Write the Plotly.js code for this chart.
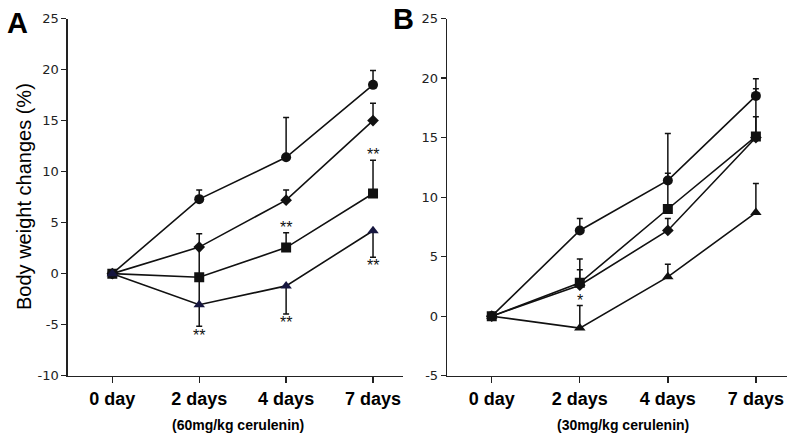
<!DOCTYPE html>
<html>
<head>
<meta charset="utf-8">
<script src="https://cdn.plot.ly/plotly-3.0.1.min.js"></script>
<style>
html,body{margin:0;padding:0;background:#fff;}
#chart{width:792px;height:436px;}
</style>
</head>
<body>
<div id="chart"></div>
<script>
// ---- data ----
const categories = ['0 day', '2 days', '4 days', '7 days'];

// Panel A (60mg/kg cerulenin)
const circleA = [0, 7.3, 11.4, 18.5];
const circleA_err = [0, 0.9, 3.9, 1.4];
const diamondA = [0, 2.6, 7.2, 15.0];
const diamondA_err = [0, 1.3, 1.0, 1.7];
const squareA = [0, -0.35, 2.55, 7.85];
const squareA_err = [0, 2.95, 1.45, 3.25];
const triangleA = [0, -3.05, -1.2, 4.2];
const triangleA_errPlus = [0, 2.7, 0, 0];
const triangleA_errMinus = [0, 2.1, 2.75, 2.6];

// Panel B (30mg/kg cerulenin)
const circleB = [0, 7.2, 11.4, 18.5];
const circleB_err = [0, 1.0, 3.95, 1.45];
const diamondB = [0, 2.6, 7.2, 15.0];
const diamondB_err = [0, 1.3, 1.0, 1.75];
const squareB = [0, 2.8, 9.0, 15.1];
const squareB_err = [0, 2.0, 3.0, 4.0];
const triangleB = [0, -1.0, 3.3, 8.7];
const triangleB_err = [0, 1.9, 1.05, 2.45];

// significance marks
const starsA_x = ['2 days', '4 days', '4 days', '7 days', '7 days'];
const starsA_y = [-6.1, -4.75, 4.55, 0.75, 11.65];
const starsA_text = ['**', '**', '**', '**', '**'];
const starsB_x = ['2 days'];
const starsB_y = [1.3];
const starsB_text = ['*'];

const yTicksA = [-10, -5, 0, 5, 10, 15, 20, 25];
const yTicksB = [-5, 0, 5, 10, 15, 20, 25];

// ---- helpers ----
const ink = '#111';
function series(y, plus, minus, symbol, size, color, xa, ya) {
  const err = {type: 'data', symmetric: false, array: plus, arrayminus: minus || plus.map(() => 0),
    color: ink, thickness: 1.5, width: 3};
  return {
    x: categories, y: y, type: 'scatter', mode: 'lines+markers',
    xaxis: xa, yaxis: ya,
    line: {color: ink, width: 1.6},
    marker: {symbol: symbol, size: size, color: color, line: {width: 0}},
    error_y: err, showlegend: false, hoverinfo: 'skip'
  };
}
const navy = '#16163f';

const traces = [
  series(circleA, circleA_err, null, 'circle', 10, ink, 'x', 'y'),
  series(diamondA, diamondA_err, null, 'diamond', 9, ink, 'x', 'y'),
  series(squareA, squareA_err, null, 'square', 10, ink, 'x', 'y'),
  series(triangleA, triangleA_errPlus, triangleA_errMinus, 'triangle-up', 10, navy, 'x', 'y'),
  series(circleB, circleB_err, null, 'circle', 10, ink, 'x2', 'y2'),
  series(diamondB, diamondB_err, null, 'diamond', 9, ink, 'x2', 'y2'),
  series(squareB, squareB_err, null, 'square', 10, ink, 'x2', 'y2'),
  series(triangleB, triangleB_err, null, 'triangle-up', 10, ink, 'x2', 'y2')
];

const W = 792, H = 436;
const tickFont = {family: 'DejaVu Sans', size: 13, color: '#222'};
const xTickFont = {family: 'Liberation Sans, Arial', size: 18, color: '#000', weight: 'bold'};
const starFont = {family: 'Liberation Sans, Arial', size: 16, color: '#111'};

function xAxis(domain, anchor) {
  return {
    domain: domain, anchor: anchor, type: 'category', categoryarray: categories,
    range: [-0.51, 3.345], showline: true, linecolor: '#222', linewidth: 1.6,
    ticks: 'outside', ticklen: 6, tickwidth: 1.4, tickcolor: '#222',
    showgrid: false, zeroline: false, tickfont: xTickFont, fixedrange: true
  };
}
function yAxis(domain, anchor, range, tv) {
  return {
    domain: domain, anchor: anchor, range: range, tickvals: tv, ticktext: tv.map(String),
    showline: true, linecolor: '#222', linewidth: 1.6,
    ticks: 'outside', ticklen: 5, tickwidth: 1.2, tickcolor: '#222',
    showgrid: false, zeroline: false, tickfont: tickFont, fixedrange: true
  };
}

const yDom = [(H - 375.7) / H, (H - 18.5) / H];
const annotations = [];
starsA_x.forEach((x, i) => annotations.push({x: x, y: starsA_y[i], xref: 'x', yref: 'y',
  text: starsA_text[i], showarrow: false, font: starFont}));
starsB_x.forEach((x, i) => annotations.push({x: x, y: starsB_y[i], xref: 'x2', yref: 'y2',
  text: starsB_text[i], showarrow: false, font: starFont}));

annotations.push(
  {text: 'A', x: 17 / W, y: 1 - 23 / H, xref: 'paper', yref: 'paper', showarrow: false,
   xanchor: 'center', yanchor: 'middle', font: {family: 'Liberation Sans, Arial', size: 29, color: '#000', weight: 'bold'}},
  {text: 'B', x: 404 / W, y: 1 - 19 / H, xref: 'paper', yref: 'paper', showarrow: false,
   xanchor: 'center', yanchor: 'middle', font: {family: 'Liberation Sans, Arial', size: 29, color: '#000', weight: 'bold'}},
  {text: 'Body weight changes (%)', x: 24 / W, y: 1 - 197 / H, xref: 'paper', yref: 'paper', showarrow: false,
   textangle: -90, xanchor: 'center', yanchor: 'middle', font: {family: 'Liberation Sans, Arial', size: 20, color: '#000'}},
  {text: '(60mg/kg cerulenin)', x: 238 / W, y: 1 - 425 / H, xref: 'paper', yref: 'paper', showarrow: false,
   xanchor: 'center', yanchor: 'middle', font: {family: 'Liberation Sans, Arial', size: 14, color: '#000', weight: 'bold'}},
  {text: '(30mg/kg cerulenin)', x: 623 / W, y: 1 - 425 / H, xref: 'paper', yref: 'paper', showarrow: false,
   xanchor: 'center', yanchor: 'middle', font: {family: 'Liberation Sans, Arial', size: 14, color: '#000', weight: 'bold'}}
);

const layout = {
  width: W, height: H,
  margin: {l: 0, r: 0, t: 0, b: 0},
  paper_bgcolor: '#fff', plot_bgcolor: '#fff',
  showlegend: false,
  xaxis: xAxis([68 / W, 403 / W], 'y'),
  yaxis: yAxis(yDom, 'x', [-10, 25], yTicksA),
  xaxis2: xAxis([447.3 / W, 786.7 / W], 'y2'),
  yaxis2: yAxis(yDom, 'x2', [-5, 25], yTicksB),
  annotations: annotations
};
layout.xaxis2.range = [-0.505, 3.35];

Plotly.newPlot('chart', traces, layout, {displayModeBar: false, staticPlot: true});
</script>
</body>
</html>
